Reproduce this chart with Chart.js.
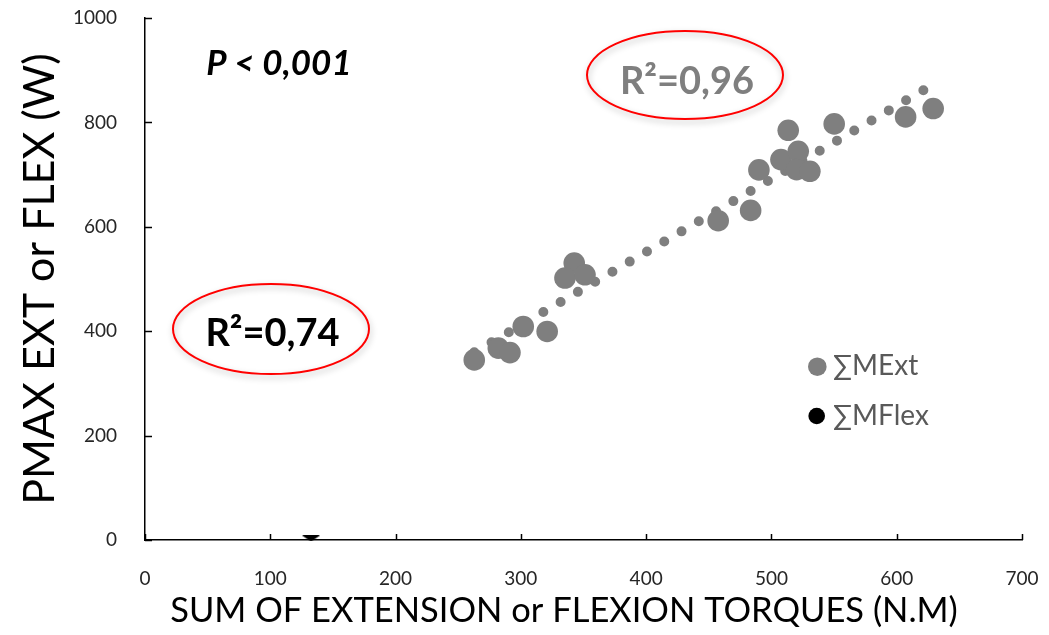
<!DOCTYPE html>
<html>
<head>
<meta charset="utf-8">
<script src="https://cdn.jsdelivr.net/npm/chart.js@4.4.0/dist/chart.umd.min.js"></script>
<style>
  html, body { margin: 0; padding: 0; background: #ffffff; }
  #wrap { position: relative; width: 1049px; height: 635px; }
  canvas { display: block; }
</style>
</head>
<body>
<div id="wrap"><canvas id="c" width="1049" height="635"></canvas></div>
<script>
// ---- Data ----
const xTickValues = [0, 100, 200, 300, 400, 500, 600, 700];
const yTickValues = [0, 200, 400, 600, 800, 1000];

// ΣMExt : sum of extension torques (N.m) vs Pmax (W)
const extX = [262.8, 282.0, 291.3, 301.9, 321.0, 342.6, 335.2, 351.2, 457.5, 483.4,
              490.0, 513.4, 507.6, 521.4, 520.1, 530.7, 550.1, 607.1, 629.1];
const extY = [345.0, 367.6, 359.0, 409.0, 399.5, 530.6, 501.8, 508.0, 611.7, 631.4,
              709.0, 784.9, 728.7, 744.6, 709.5, 706.3, 797.1, 810.5, 826.5];

// ΣMFlex : only one marker visible, sitting on the x axis
const flexX = [132.5];
const flexY = [2.9];

// Linear trendline of ΣMExt (end points)
const trendX = [262.8, 629.1];
const trendY = [359.5, 872.6];

const seriesNames = ['∑MExt', '∑MFlex'];
const annotationTexts = { p: 'P < 0,001', r2Flex: 'R²=0,74', r2Ext: 'R²=0,96' };

const FONT = 'Lato, "Open Sans", "DejaVu Sans", sans-serif';
const GREY = '#7f7f7f';

// flat downward triangle marker for ΣMFlex
const flexMarker = (function () {
  const cv = document.createElement('canvas');
  cv.width = 18; cv.height = 6;
  const g = cv.getContext('2d');
  g.fillStyle = '#000';
  g.beginPath(); g.moveTo(0, 0); g.lineTo(18, 0); g.lineTo(9, 6); g.closePath(); g.fill();
  return cv;
})();

const toPts = (xs, ys) => xs.map((x, i) => ({ x: x, y: ys[i] }));

// inside tick marks + annotations
const decorPlugin = {
  id: 'decor',
  afterDraw(chart) {
    const ctx = chart.ctx;
    const xs = chart.scales.x, ys = chart.scales.y;
    const area = chart.chartArea;
    ctx.save();
    // tick marks pointing inside
    ctx.strokeStyle = '#000';
    ctx.lineWidth = 1.5;
    xTickValues.forEach(v => {
      const px = Math.round(xs.getPixelForValue(v)) + 0.5;
      ctx.beginPath(); ctx.moveTo(px, area.bottom); ctx.lineTo(px, area.bottom - 6); ctx.stroke();
    });
    yTickValues.forEach(v => {
      const py = Math.round(ys.getPixelForValue(v)) + 0.5;
      ctx.beginPath(); ctx.moveTo(area.left, py); ctx.lineTo(area.left + 7, py); ctx.stroke();
    });

    // red ellipses with soft shadow
    const ell = (cx, cy, rx, ry) => {
      ctx.save();
      ctx.shadowColor = 'rgba(0,0,0,0.28)';
      ctx.shadowBlur = 6;
      ctx.shadowOffsetX = 1;
      ctx.shadowOffsetY = 3;
      ctx.strokeStyle = '#ff0000';
      ctx.lineWidth = 2;
      ctx.beginPath();
      ctx.ellipse(cx, cy, rx, ry, 0, 0, Math.PI * 2);
      ctx.stroke();
      ctx.restore();
    };
    ell(271, 329, 98, 45);
    ell(685, 75, 98, 44);

    // texts
    ctx.textBaseline = 'alphabetic';
    ctx.textAlign = 'center';
    ctx.fillStyle = '#000';
    ctx.font = 'italic bold 35px ' + FONT;
    ctx.fillText(annotationTexts.p, 279, 75);
    ctx.font = 'bold 38px ' + FONT;
    ctx.fillText(annotationTexts.r2Flex, 272.5, 346);
    ctx.fillStyle = GREY;
    ctx.fillText(annotationTexts.r2Ext, 687, 93.5);

    // legend
    ctx.fillStyle = GREY;
    ctx.beginPath(); ctx.arc(817.3, 366.7, 9.3, 0, Math.PI * 2); ctx.fill();
    ctx.fillStyle = '#000';
    ctx.beginPath(); ctx.arc(816.7, 416, 8.3, 0, Math.PI * 2); ctx.fill();
    ctx.textAlign = 'left';
    ctx.fillStyle = '#595959';
    ctx.font = '28px ' + FONT;
    ctx.fillText(seriesNames[0], 833, 375);
    ctx.fillText(seriesNames[1], 833, 424.5);
    ctx.restore();
  }
};

new Chart(document.getElementById('c'), {
  type: 'scatter',
  data: {
    datasets: [
      {
        type: 'line',
        label: 'trend',
        data: toPts(trendX, trendY),
        borderColor: GREY,
        borderWidth: 10,
        borderDash: [0, 20],
        borderCapStyle: 'round',
        pointRadius: 0,
        fill: false,
        order: 3
      },
      {
        label: seriesNames[0],
        data: toPts(extX, extY),
        backgroundColor: GREY,
        borderWidth: 0,
        pointRadius: 10.8,
        pointHoverRadius: 10.8,
        order: 2
      },
      {
        label: seriesNames[1],
        data: toPts(flexX, flexY),
        pointStyle: flexMarker,
        backgroundColor: '#000',
        borderWidth: 0,
        clip: false,
        order: 1
      }
    ]
  },
  options: {
    responsive: false,
    animation: false,
    events: [],
    layout: { padding: { top: 18, right: 27, left: 0, bottom: 0 } },
    plugins: { legend: { display: false }, tooltip: { enabled: false } },
    scales: {
      x: {
        type: 'linear',
        min: 0, max: 700,
        afterFit: s => {
          s.height = 95; s.paddingLeft = 0; s.paddingRight = 0;
          // the reference's axis title sits a little left of the plot-area centre
          const baseDrawTitle = Object.getPrototypeOf(s).drawTitle;
          s.drawTitle = function () {
            this.ctx.save();
            this.ctx.translate(-19.5, 0);
            baseDrawTitle.call(this);
            this.ctx.restore();
          };
        },
        afterBuildTicks: s => { s.ticks = xTickValues.map(v => ({ value: v })); },
        grid: { display: false },
        border: { display: true, color: '#000', width: 1.5 },
        ticks: { color: '#262626', font: { family: FONT, size: 19 }, padding: 19, maxRotation: 0,
                 callback: v => String(v) },
        title: {
          display: true,
          text: 'SUM OF EXTENSION or FLEXION TORQUES (N.M)',
          color: '#000',
          font: { family: FONT, size: 34.5 },
          padding: { top: 0, bottom: 3 }
        }
      },
      y: {
        type: 'linear',
        min: 0, max: 1000,
        afterFit: s => { s.width = 145; s.paddingTop = 0; s.paddingBottom = 0; },
        afterBuildTicks: s => { s.ticks = yTickValues.map(v => ({ value: v })); },
        grid: { display: false },
        border: { display: true, color: '#000', width: 1.5 },
        ticks: { color: '#262626', font: { family: FONT, size: 19 }, padding: 20,
                 callback: v => String(v) },
        title: {
          display: true,
          text: 'PMAX EXT or FLEX (W)',
          color: '#000',
          font: { family: FONT, size: 43 },
          padding: { top: 14, bottom: 0 }
        }
      }
    }
  },
  plugins: [decorPlugin]
});
</script>
</body>
</html>
